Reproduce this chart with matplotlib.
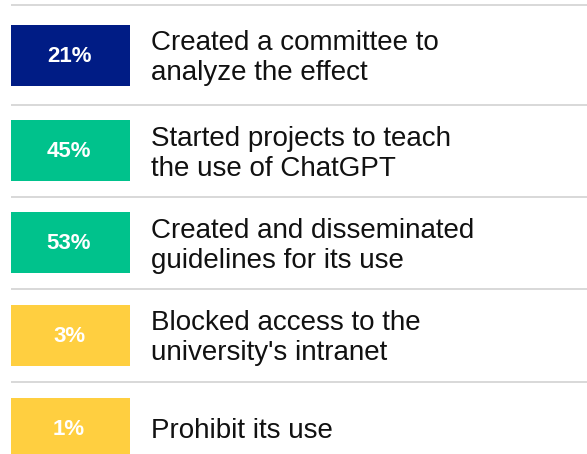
import matplotlib.pyplot as plt
import matplotlib as mpl
mpl.rc('font', family=['Liberation Sans', 'DejaVu Sans'])

pcts = [21, 45, 53, 3, 1]
labels = ["Created a committee to\nanalyze the effect",
          "Started projects to teach\nthe use of ChatGPT",
          "Created and disseminated\nguidelines for its use",
          "Blocked access to the\nuniversity's intranet",
          "Prohibit its use"]
colors = ["#001C85", "#00C28C", "#00C28C", "#FFCF40", "#FFCF40"]

# layout in pixel units
rows = [55.5, 150.5, 242.5, 335.5, 428.5]
seps = [5, 104.5, 196.7, 289.3, 381.7]

fig = plt.figure(figsize=(5.87, 4.54), dpi=100)
ax = fig.add_axes([0, 0, 1, 1])
ax.set_xlim(0, 587)
ax.set_ylim(454, 0)
ax.axis("off")

for y in seps:
    ax.plot([11, 587], [y, y], color="#D8D8D8", lw=1.4, solid_capstyle="butt")

ax.barh(rows, 119, height=61, left=11, color=colors)

for y, p, lab in zip(rows, pcts, labels):
    ax.text(69, y + 1, f"{p}%", color="white", fontsize=16, fontweight="bold",
            ha="center", va="center")
    ax.text(151, y + 3, lab, color="#111111", fontsize=20, ha="left", va="center",
            linespacing=1.2)

fig.savefig("out.png", dpi=100)
